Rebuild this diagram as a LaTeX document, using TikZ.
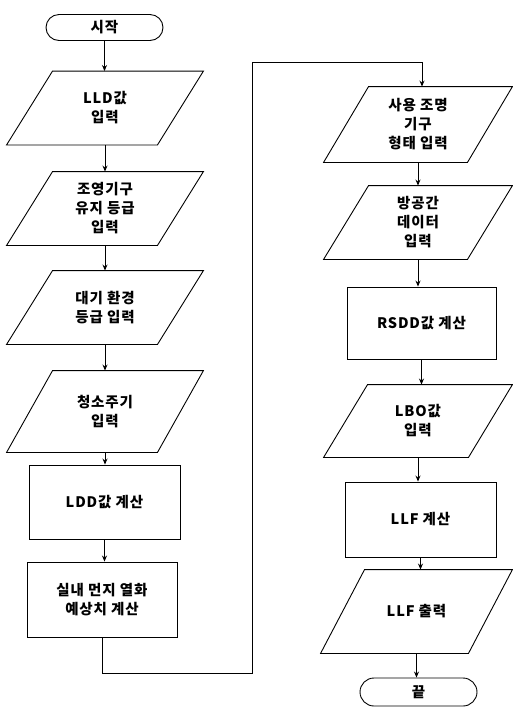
\documentclass[tikz,border=0pt]{standalone}
\usepackage{fontspec}
\setmainfont{Noto Sans CJK KR}[LetterSpace=6]
\usetikzlibrary{arrows.meta,calc,shapes.misc}
\begin{document}
\begin{tikzpicture}[x=1pt,y=-1pt,
  line width=0.9pt,
  every node/.style={font=\fontsize{14.5}{19}\selectfont\bfseries, align=center, inner sep=0pt},
  term/.style={draw, rounded rectangle, minimum width=117, minimum height=26},
  proc/.style={draw, rectangle, minimum width=151, minimum height=74},
  io/.style={rectangle, minimum width=196, minimum height=73},
  arr/.style={-{Stealth[length=6pt,width=5pt]}}
]
\useasboundingbox (0,0) rectangle (513,716);
% left column
\node[term] (start) at (104.5,27.5) {시작};
\node[io] (p1) at (105,108) {LLD값\\입력};
\node[io] (p2) at (105,208.5) {조영기구\\유지 등급\\입력};
\node[io] (p3) at (105,307.5) {대기 환경\\등급 입력};
\node[io, minimum height=81] (p4) at (105,411.5) {청소주기\\입력};
\node[proc] (r1) at (104.5,502) {LDD값 계산};
\node[proc, minimum width=150, minimum height=75] (r2) at (102,599.5) {실내 먼지 열화\\예상치 계산};
% right column
\node[io, minimum width=188, minimum height=75] (q1) at (418,124.5) {사용 조명\\기구\\형태 입력};
\node[io, minimum width=188] (q2) at (418,222.5) {방공간\\데이터\\입력};
\node[proc, minimum width=149, minimum height=72] (r3) at (421.5,323) {RSDD값 계산};
\node[io, minimum width=188, minimum height=72] (q3) at (418,421) {LBO값\\입력};
\node[proc, minimum height=75] (r4) at (420.5,519.5) {LLF 계산};
\node[io, minimum width=191, minimum height=83] (q4) at (416.5,611.5) {LLF 출력};
\node[term, minimum height=28] (end) at (418.5,692) {끝};
% parallelogram outlines
\foreach \n/\s in {p1/46,p2/46,p3/46,p4/46,q1/45,q2/45,q3/44,q4/44}{
  \draw (\n.south west) -- ($(\n.north west)+(\s,0)$) -- (\n.north east) -- ($(\n.south east)-(\s,0)$) -- cycle;
}
% connectors
\foreach \a/\b in {start/p1,p1/p2,p2/p3,p3/p4,p4/r1,r1/r2,q1/q2,q2/r3,r3/q3,q3/r4,r4/q4,q4/end}{
  \draw[arr] (\a.south) -- (\a.south |- \b.north);
}
\coordinate (loopA) at (252,673);
\coordinate (loopB) at (252,62);
\coordinate (loopC) at (422,62);
\draw[arr] (r2.south) |- (loopA) -- (loopB) -- (loopC) -- (loopC |- q1.north);
\end{tikzpicture}
\end{document}
